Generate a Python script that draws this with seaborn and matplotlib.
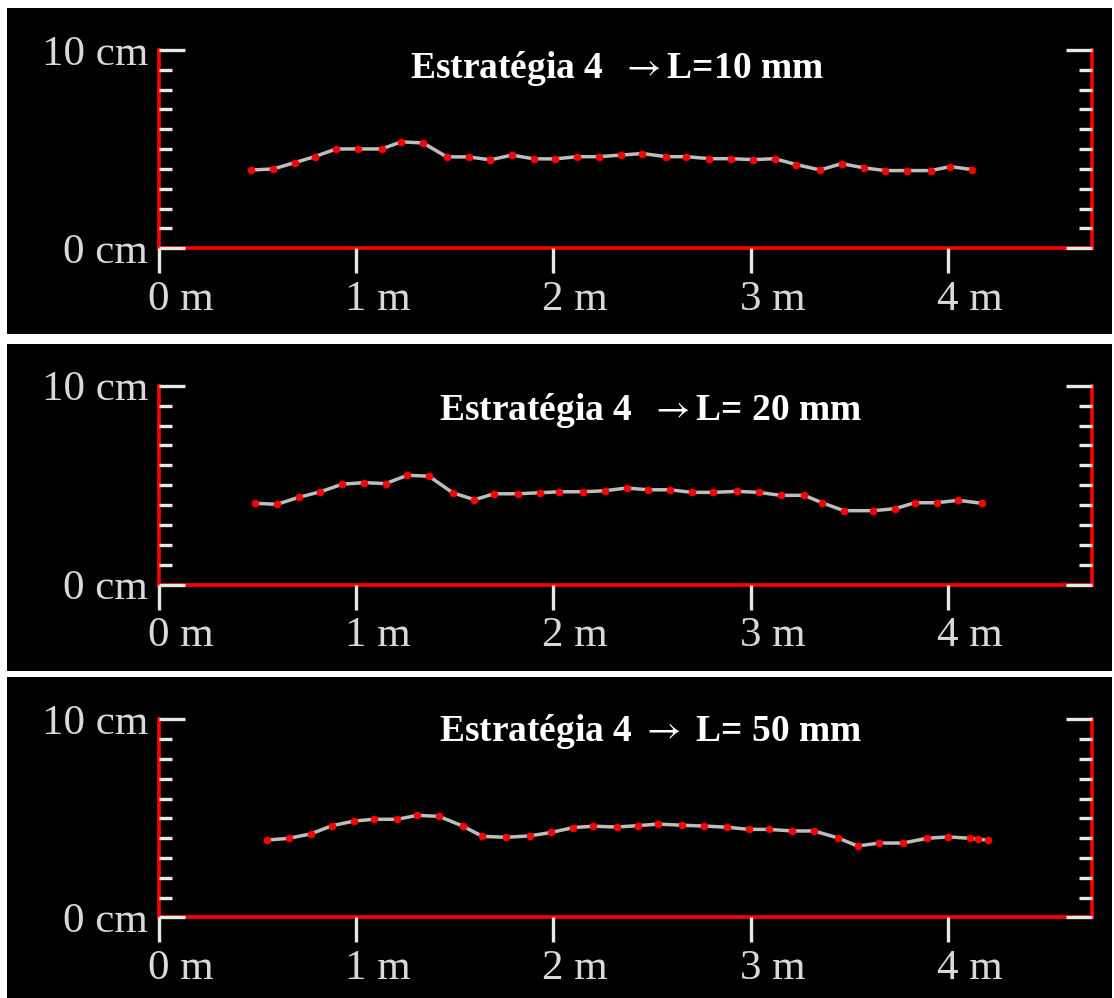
import matplotlib
matplotlib.use("Agg")
import matplotlib.pyplot as plt
import pandas as pd
import seaborn as sns
from matplotlib.patches import Rectangle
from matplotlib.ticker import FixedLocator
from matplotlib.transforms import ScaledTranslation

# Surface profiles: position along the section (m) and height (cm)
pos_l10 = [0.47, 0.58, 0.69, 0.79, 0.90, 1.01, 1.13, 1.23, 1.34, 1.46, 1.57, 1.68,
           1.79, 1.90, 2.01, 2.12, 2.23, 2.34, 2.45, 2.57, 2.67, 2.79, 2.90, 3.01,
           3.12, 3.23, 3.35, 3.46, 3.57, 3.68, 3.79, 3.91, 4.01, 4.12]
h_l10 = [3.95, 4.00, 4.32, 4.62, 5.01, 5.01, 5.01, 5.37, 5.31, 4.61, 4.61, 4.46,
         4.70, 4.51, 4.51, 4.62, 4.62, 4.70, 4.78, 4.62, 4.62, 4.52, 4.52, 4.47,
         4.52, 4.22, 3.95, 4.27, 4.06, 3.92, 3.92, 3.92, 4.12, 3.97]

pos_l20 = [0.49, 0.60, 0.71, 0.82, 0.93, 1.04, 1.15, 1.26, 1.37, 1.49, 1.60, 1.70,
           1.82, 1.93, 2.03, 2.15, 2.26, 2.37, 2.48, 2.59, 2.70, 2.81, 2.93, 3.04,
           3.15, 3.27, 3.36, 3.47, 3.62, 3.73, 3.83, 3.94, 4.05, 4.17]
h_l20 = [4.09, 4.04, 4.39, 4.67, 5.05, 5.13, 5.08, 5.50, 5.45, 4.62, 4.27, 4.57,
         4.57, 4.62, 4.67, 4.67, 4.72, 4.86, 4.77, 4.77, 4.64, 4.64, 4.69, 4.64,
         4.49, 4.49, 4.12, 3.72, 3.72, 3.82, 4.12, 4.12, 4.24, 4.09]

pos_l50 = [0.55, 0.66, 0.77, 0.88, 0.99, 1.09, 1.21, 1.31, 1.42, 1.54, 1.64, 1.76,
           1.88, 1.99, 2.10, 2.20, 2.32, 2.43, 2.53, 2.65, 2.76, 2.88, 2.99, 3.09,
           3.21, 3.32, 3.44, 3.54, 3.65, 3.77, 3.89, 4.00, 4.11, 4.15, 4.20]
h_l50 = [3.90, 3.99, 4.21, 4.63, 4.86, 4.95, 4.95, 5.15, 5.10, 4.61, 4.09, 4.04,
         4.11, 4.29, 4.53, 4.60, 4.56, 4.63, 4.71, 4.65, 4.61, 4.55, 4.44, 4.44,
         4.36, 4.36, 4.01, 3.60, 3.75, 3.75, 3.99, 4.06, 3.99, 3.95, 3.89]

titles = [r"Estratégia 4  $\rightarrow$L=10 mm",
          r"Estratégia 4  $\rightarrow$L= 20 mm",
          r"Estratégia 4 $\rightarrow$ L= 50 mm"]
title_pos = [(2.32, 8.61), (2.49, 8.28), (2.49, 8.90)]

x_ticks = [0, 1, 2, 3, 4]
x_tick_labels = ["0 m", "1 m", "2 m", "3 m", "4 m"]
y_ticks = [0, 10]
y_tick_labels = ["0 cm", "10 cm"]
y_minor_ticks = [1, 2, 3, 4, 5, 6, 7, 8, 9]

profiles = [(pos_l10, h_l10), (pos_l20, h_l20), (pos_l50, h_l50)]

sns.set_theme(style="ticks")
serif = ["Liberation Serif", "DejaVu Serif"]
plt.rcParams["font.family"] = serif
plt.rcParams["mathtext.fontset"] = "stix"

W, H = 1114, 998
fig = plt.figure(figsize=(W / 100, H / 100), dpi=100, facecolor="white")


def frac(x0, y0, x1, y1):
    return [x0 / W, 1 - y1 / H, (x1 - x0) / W, (y1 - y0) / H]


panel_boxes = [(7, 8, 1112, 334), (7, 344, 1112, 671), (7, 677, 1112, 998)]
axes_boxes = [(158.5, 50, 1092, 248.3), (158.5, 385.7, 1092, 584.7),
              (158.5, 719.3, 1092, 917.3)]

tick_color = "#e8e8e8"
label_color = "#d9d9d9"
spine_red = "#ff0000"

for (px0, py0, px1, py1), box, (xs, ys), title, (tx, ty) in zip(
        panel_boxes, axes_boxes, profiles, titles, title_pos):
    l, b, w, h = frac(px0, py0, px1, py1)
    fig.add_artist(Rectangle((l, b), w, h, transform=fig.transFigure,
                             facecolor="black", edgecolor="none", zorder=0))

    ax = fig.add_axes(frac(*box))
    ax.set_facecolor("none")
    df = pd.DataFrame({"pos": xs, "h": ys})
    sns.lineplot(data=df, x="pos", y="h", ax=ax, sort=False, estimator=None,
                 color="#bdbdbd", linewidth=2.5, marker="o", markersize=5,
                 markerfacecolor=spine_red, markeredgecolor=spine_red,
                 markeredgewidth=0.5)

    ax.set_xlim(0, 4.727)
    ax.set_ylim(0, 10)
    ax.set_xlabel("")
    ax.set_ylabel("")

    ax.xaxis.set_major_locator(FixedLocator(x_ticks))
    ax.set_xticklabels(x_tick_labels)
    ax.yaxis.set_major_locator(FixedLocator(y_ticks))
    ax.yaxis.set_minor_locator(FixedLocator(y_minor_ticks))
    ax.set_yticklabels(y_tick_labels)

    ax.tick_params(axis="x", which="major", direction="out", length=18,
                   width=2.4, color=tick_color, labelsize=31,
                   labelcolor=label_color, pad=5, top=False, bottom=True)
    ax.tick_params(axis="x", which="minor", bottom=False, top=False)
    ax.tick_params(axis="y", which="major", direction="in", length=18.7,
                   width=2.4, color=tick_color, labelsize=31,
                   labelcolor=label_color, pad=7.5, left=True, right=True,
                   labelleft=True, labelright=False)
    ax.tick_params(axis="y", which="minor", direction="in", length=9.4,
                   width=2.4, color=tick_color, left=True, right=True)

    for lab in ax.get_xticklabels():
        lab.set_horizontalalignment("left")
        lab.set_transform(lab.get_transform()
                          + ScaledTranslation(-0.11, 0, fig.dpi_scale_trans))

    ax.spines["top"].set_visible(False)
    for side in ("left", "right", "bottom"):
        ax.spines[side].set_color(spine_red)
        ax.spines[side].set_linewidth(2.6)
        ax.spines[side].set_zorder(2.4)
    ax.set_axisbelow(False)
    ax.grid(False)

    ax.text(tx, ty, title, ha="center", va="baseline", color="white",
            fontsize=27, fontweight="bold", family=serif)

fig.savefig("out.png", dpi=100, facecolor="white")
